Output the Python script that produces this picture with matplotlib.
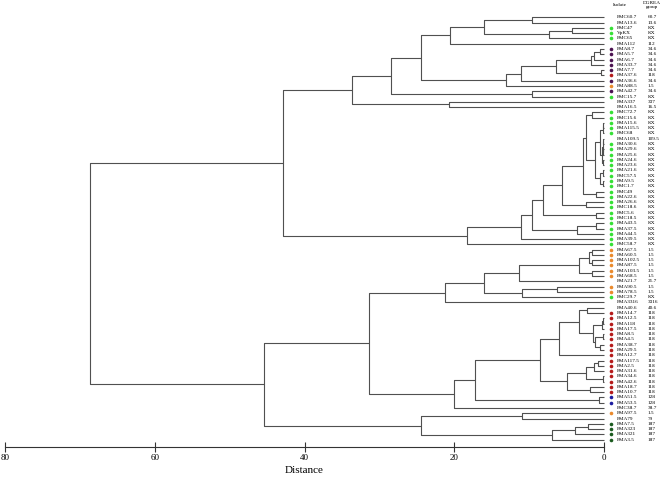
import matplotlib.pyplot as plt
import matplotlib.transforms as mtransforms

plt.rcParams['font.family'] = ['Liberation Serif', 'DejaVu Serif']

# leaves, top to bottom
isolates = ['PMC60.7', 'PMA13.6', 'PMC47', 'VpKX', 'PMC65', 'PMA112',
            'PMA8.7', 'PMA5.7', 'PMA6.7', 'PMA33.7', 'PMA7.7', 'PMA37.6',
            'PMA36.6', 'PMA88.5', 'PMA42.7', 'PMC15.7', 'PMA337', 'PMA16.5',
            'PMC72.7', 'PMC15.6', 'PMA15.6', 'PMA115.5', 'PMC68', 'PMA109.5',
            'PMA30.6', 'PMA29.6', 'PMA25.6', 'PMA24.6', 'PMA23.6', 'PMA21.6',
            'PMC57.5', 'PMA9.5', 'PMC1.7', 'PMC49', 'PMA22.6', 'PMA26.6',
            'PMC18.6', 'PMC5.6', 'PMC18.5', 'PMA43.5', 'PMA37.5', 'PMA44.5',
            'PMA39.5', 'PMC58.7', 'PMA67.5', 'PMA60.5', 'PMA102.5', 'PMA87.5',
            'PMA103.5', 'PMA68.5', 'PMA21.7', 'PMA90.5', 'PMA78.5', 'PMC29.7',
            'PMA3316', 'PMA40.6', 'PMA14.7', 'PMA12.5', 'PMA118', 'PMA17.5',
            'PMA8.5', 'PMA4.5', 'PMA38.7', 'PMA29.5', 'PMA12.7', 'PMA117.5',
            'PMA2.5', 'PMA31.6', 'PMA34.6', 'PMA42.6', 'PMA18.7', 'PMA10.7',
            'PMA51.5', 'PMA53.5', 'PMC38.7', 'PMA97.5', 'PMA79', 'PMA7.5',
            'PMA323', 'PMA321', 'PMA3.5']

groups = ['60.7', '13.6', 'KX', 'KX', 'KX', '112',
          '34.6', '34.6', '34.6', '34.6', '34.6', '118',
          '34.6', '1.5', '34.6', 'KX', '337', '16.5',
          'KX', 'KX', 'KX', 'KX', 'KX', '109.5',
          'KX', 'KX', 'KX', 'KX', 'KX', 'KX',
          'KX', 'KX', 'KX', 'KX', 'KX', 'KX',
          'KX', 'KX', 'KX', 'KX', 'KX', 'KX',
          'KX', 'KX', '1.5', '1.5', '1.5', '1.5',
          '1.5', '1.5', '21.7', '1.5', '1.5', 'KX',
          '3316', '40.6', '118', '118', '118', '118',
          '118', '118', '118', '118', '118', '118',
          '118', '118', '118', '118', '118', '118',
          '128', '128', '38.7', '1.5', '79', '187',
          '187', '187', '187']

# (node, left, right, distance)
merges = [
    ('a1', 'PMC60.7', 'PMA13.6', 9.6),
    ('a2', 'PMC47', 'VpKX', 4.3),
    ('a3', 'a2', 'PMC65', 7.3),
    ('a4', 'a1', 'a3', 16.0),
    ('a5', 'a4', 'PMA112', 20.6),
    ('b1', 'PMA8.7', 'PMA5.7', 0.5),
    ('b2', 'b1', 'PMA6.7', 1.3),
    ('b3', 'b2', 'PMA33.7', 1.8),
    ('b4', 'PMA7.7', 'PMA37.6', 0.4),
    ('b5', 'b3', 'b4', 6.4),
    ('b6', 'b5', 'PMA36.6', 11.1),
    ('b7', 'b6', 'PMA88.5', 13.1),
    ('c1', 'a5', 'b7', 24.4),
    ('c2', 'PMA42.7', 'PMC15.7', 9.6),
    ('c3', 'c1', 'c2', 28.5),
    ('c4', 'PMA337', 'PMA16.5', 20.7),
    ('c5', 'c3', 'c4', 33.6),
    ('g1', 'PMA15.6', 'PMA115.5', 0.1),
    ('g2', 'g1', 'PMC68', 0.2),
    ('g3', 'PMA109.5', 'PMA30.6', 0.1),
    ('g4', 'PMA29.6', 'PMA25.6', 0.1),
    ('g5', 'g3', 'g4', 0.2),
    ('g6', 'PMA24.6', 'PMA23.6', 0.1),
    ('g7', 'g5', 'g6', 0.3),
    ('g8', 'g2', 'g7', 0.6),
    ('g9', 'PMA21.6', 'PMC57.5', 0.2),
    ('g10', 'PMA9.5', 'PMC1.7', 0.2),
    ('g11', 'g9', 'g10', 0.5),
    ('g12', 'g8', 'g11', 1.2),
    ('g13', 'PMC72.7', 'PMC15.6', 1.6),
    ('g14', 'g13', 'g12', 2.4),
    ('g15', 'PMC49', 'PMA22.6', 1.1),
    ('g16', 'g14', 'g15', 2.8),
    ('g17', 'PMA26.6', 'PMC18.6', 2.4),
    ('g18', 'g16', 'g17', 5.6),
    ('g19', 'PMC5.6', 'PMC18.5', 1.1),
    ('g20', 'g18', 'g19', 8.2),
    ('g21', 'PMA43.5', 'PMA37.5', 1.1),
    ('g22', 'g21', 'PMA44.5', 3.6),
    ('g23', 'g20', 'g22', 9.6),
    ('g24', 'g23', 'PMA39.5', 11.1),
    ('g25', 'g24', 'PMC58.7', 18.3),
    ('u', 'c5', 'g25', 42.9),
    ('o1', 'PMA67.5', 'PMA60.5', 1.6),
    ('o2', 'PMA102.5', 'PMA87.5', 1.6),
    ('o3', 'o1', 'o2', 2.0),
    ('o4', 'PMA103.5', 'PMA68.5', 1.6),
    ('o5', 'o3', 'o4', 3.4),
    ('o6', 'o5', 'PMA21.7', 11.3),
    ('o7', 'PMA90.5', 'PMA78.5', 6.3),
    ('o8', 'o7', 'PMC29.7', 10.9),
    ('o9', 'o6', 'o8', 16.0),
    ('o10', 'o9', 'PMA3316', 21.3),
    ('r1', 'PMA40.6', 'PMA14.7', 2.3),
    ('r2', 'PMA12.5', 'PMA118', 0.2),
    ('r3', 'r2', 'PMA17.5', 0.3),
    ('r4', 'PMA8.5', 'PMA4.5', 0.2),
    ('r5', 'PMA38.7', 'PMA29.5', 0.5),
    ('r6', 'r4', 'r5', 1.2),
    ('r7', 'r3', 'r6', 1.5),
    ('r8', 'r1', 'r7', 3.3),
    ('r9', 'r8', 'PMA12.7', 6.0),
    ('r10', 'PMA117.5', 'PMA2.5', 0.8),
    ('r11', 'r10', 'PMA31.6', 1.4),
    ('r12', 'PMA34.6', 'PMA42.6', 0.1),
    ('r13', 'r11', 'r12', 2.4),
    ('r14', 'PMA18.7', 'PMA10.7', 1.9),
    ('r15', 'r13', 'r14', 5.0),
    ('r16', 'r9', 'r15', 8.5),
    ('r17', 'PMA51.5', 'PMA53.5', 0.7),
    ('r18', 'r16', 'r17', 17.2),
    ('r19', 'r18', 'PMC38.7', 20.0),
    ('l1', 'o10', 'r19', 31.4),
    ('k1', 'PMA97.5', 'PMA79', 11.0),
    ('k2', 'PMA7.5', 'PMA323', 2.1),
    ('k3', 'k2', 'PMA321', 3.9),
    ('k4', 'k3', 'PMA3.5', 6.9),
    ('k5', 'k1', 'k4', 24.5),
    ('l2', 'l1', 'k5', 45.4),
    ('root', 'u', 'l2', 68.7),
]

group_colors = {'KX': '#35e035', '34.6': '#4a1150', '118': '#b51a1a',
                '1.5': '#ea8a2c', '128': '#1c1ca0', '187': '#1a5a1e'}

fig = plt.figure(figsize=(6.64, 4.79), dpi=100)
ax = fig.add_axes([5 / 664, 32 / 479, 599 / 664, 447 / 479])

# tree
node_y = {name: i for i, name in enumerate(isolates)}
node_h = {name: 0.0 for name in isolates}
for name, left, right, h in merges:
    y1, y2 = node_y[left], node_y[right]
    ax.plot([node_h[left], h, h, node_h[right]], [y1, y1, y2, y2],
            color='#505050', lw=0.8, clip_on=False, solid_capstyle='butt')
    node_y[name] = (y1 + y2) / 2
    node_h[name] = h

# leaf labels, dots and group column
dot_tr = mtransforms.offset_copy(ax.transData, fig=fig, x=7, y=0, units='dots')
lab_tr = mtransforms.offset_copy(ax.transData, fig=fig, x=13, y=0, units='dots')
grp_tr = mtransforms.offset_copy(ax.transData, fig=fig, x=44, y=0, units='dots')
for i, (iso, g) in enumerate(zip(isolates, groups)):
    if g in group_colors:
        ax.plot(0, i, 'o', color=group_colors[g], ms=2.6, mew=0,
                transform=dot_tr, clip_on=False)
    ax.text(0, i, iso, transform=lab_tr, fontsize=3.8, va='center', ha='left')
    ax.text(0, i, g, transform=grp_tr, fontsize=3.8, va='center', ha='left')

fig.text(613 / 664, 1 - 5 / 479, 'Isolate', fontsize=3.8, va='center', ha='left')
fig.text(652 / 664, 1 - 1 / 479, 'DGREA\ngroup', fontsize=3.8, va='top',
         ha='center', linespacing=1.0)

ax.set_xlim(80, 0)
ax.set_ylim(81.38, -3.28)
ax.set_xticks([80, 60, 40, 20, 0])
ax.set_yticks([])
for s in ['top', 'left', 'right']:
    ax.spines[s].set_visible(False)
ax.spines['bottom'].set_color('#333333')
ax.spines['bottom'].set_linewidth(0.8)
ax.tick_params(axis='x', direction='inout', length=7, width=0.8,
               color='#333333', labelsize=6.5, pad=1.5)
ax.set_xlabel('Distance', fontsize=8, labelpad=3)
ax.patch.set_visible(False)

fig.savefig('out.png', dpi=100)
